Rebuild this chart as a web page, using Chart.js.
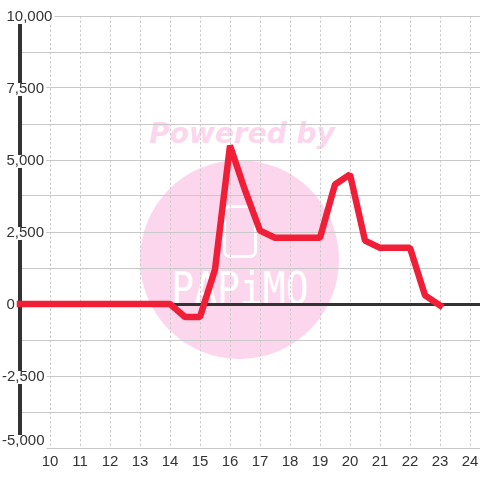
<!DOCTYPE html>
<html>
<head>
<meta charset="utf-8">
<script src="https://cdn.jsdelivr.net/npm/chart.js@4/dist/chart.umd.min.js"></script>
<style>
html, body { margin: 0; padding: 0; background: #fff; }
#wrap { position: relative; width: 480px; height: 480px; overflow: hidden; }
#chart { position: absolute; left: 0; top: 0; }
.wm { position: absolute; }
#wmText { left: 0; top: 117px; width: 484px; text-align: center; font: italic bold 28px "DejaVu Sans"; color: #fcd6ed; }
#wmCircle { left: 140px; top: 160px; width: 199px; height: 199px; border-radius: 50%; background: #fcd6ed; }
#wmPhone { left: 223px; top: 205px; width: 28px; height: 47px; border: 3px solid #fff; border-radius: 7px; }
#wmName { left: 140px; top: 264px; width: 200px; text-align: center; font: 38px "DejaVu Sans Mono"; color: #fff; transform: scaleY(1.155); transform-origin: top; }
</style>
</head>
<body>
<div id="wrap">
  <div class="wm" id="wmText">Powered by</div>
  <div class="wm" id="wmCircle"></div>
  <div class="wm" id="wmPhone"></div>
  <div class="wm" id="wmName">PAPiMO</div>
  <canvas id="chart" width="480" height="480"></canvas>
</div>
<script>
const hours = [9, 9.5, 10, 10.5, 11, 11.5, 12, 12.5, 13, 13.5, 14, 14.5, 15, 15.5, 16, 16.5, 17, 17.5, 18, 18.5, 19, 19.5, 20, 20.5, 21, 21.5, 22, 22.5, 23];
const values = [0, 0, 0, 0, 0, 0, 0, 0, 0, 0, 0, -450, -450, 1200, 5500, 3950, 2550, 2300, 2300, 2300, 2300, 4150, 4500, 2200, 1950, 1950, 1950, 300, -50];
const hourTicks = [10, 11, 12, 13, 14, 15, 16, 17, 18, 19, 20, 21, 22, 23, 24];

const points = hours.map((h, i) => ({ x: h, y: values[i] }));

// the y labels sit across the axis line, left aligned, with a white box behind
const labelShift = {
    id: 'labelShift',
    beforeDraw(chart) {
        chart.scales.y.getLabelItems().forEach(item => {
            if (item.shifted || !item.label) return;
            item.shifted = true;
            const o = item.options;
            const tickY = o.translation[1];
            const x = String(item.label).startsWith('-') ? 2 : 6.5;
            const y = item.label === '-5,000' ? tickY - 7 : tickY + 1;
            o.textAlign = 'left';
            o.translation = [x, y];
            if (o.backdrop) {
                // backdrop is drawn relative to the translated label
                o.backdrop.left = -2;
                o.backdrop.top = -6;
                o.backdrop.height = item.label === '-5,000' ? 16 : 13;
            }
        });
    }
};

new Chart(document.getElementById('chart'), {
    type: 'line',
    data: {
        datasets: [{
            data: points,
            borderColor: '#f01f37',
            borderWidth: 6.5,
            borderCapStyle: 'square',
            borderJoinStyle: 'bevel',
            pointRadius: 0,
            tension: 0,
            fill: false,
            clip: false
        }]
    },
    options: {
        responsive: false,
        animation: false,
        layout: { padding: { left: 20, top: 16, right: 0, bottom: 4 } },
        plugins: { legend: { display: false }, tooltip: { enabled: false } },
        scales: {
            x: {
                type: 'linear',
                min: 9,
                max: 24 + 1 / 3,
                afterBuildTicks: scale => {
                    scale.ticks = hourTicks.map(value => ({ value }));
                },
                afterFit: scale => {
                    scale.paddingLeft = 0;
                    scale.paddingRight = 0;
                },
                grid: { color: '#cccccc', lineWidth: 1, drawTicks: false },
                border: { display: false, dash: [2.5, 2] },
                ticks: {
                    color: '#333',
                    font: { family: 'Liberation Sans', size: 15 },
                    padding: 5,
                    maxRotation: 0,
                    autoSkip: false,
                    callback: v => String(v)
                }
            },
            y: {
                min: -5000,
                max: 10000,
                grid: {
                    color: c => c.tick.value === 0 ? '#333' : '#c8c8c8',
                    lineWidth: c => c.tick.value === 0 ? 3 : 1,
                    drawTicks: false
                },
                border: { display: true, color: '#333', width: 4 },
                ticks: {
                    stepSize: 1250,
                    color: '#333',
                    font: { family: 'Liberation Sans', size: 15 },
                    mirror: true,
                    padding: 0,
                    showLabelBackdrop: c => c.tick.value % 2500 === 0,
                    backdropColor: '#fff',
                    backdropPadding: { left: 2, right: 2, top: 1, bottom: 1 },
                    callback: v => v % 2500 === 0 ? v.toLocaleString('en-US') : ''
                }
            }
        }
    },
    plugins: [labelShift]
});
</script>
</body>
</html>
